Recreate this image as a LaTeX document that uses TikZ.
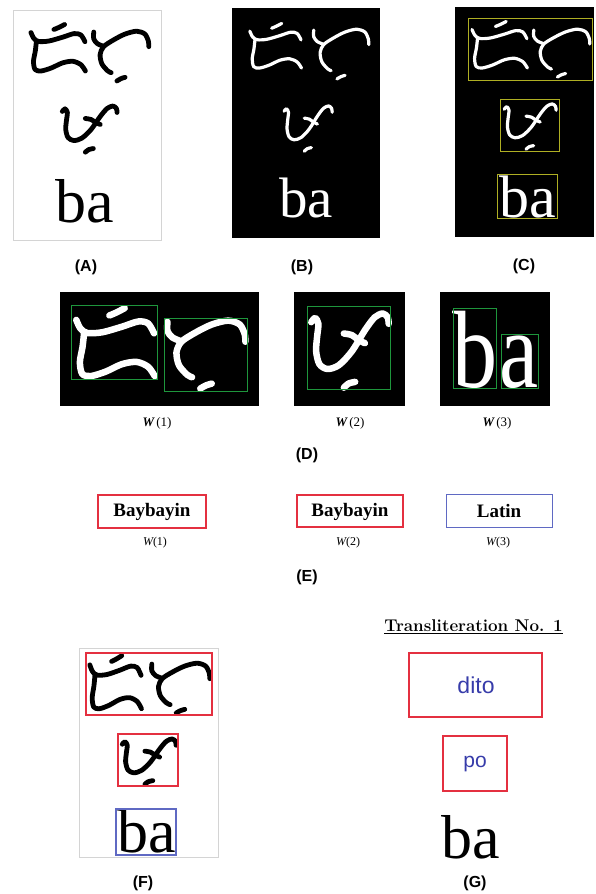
\documentclass[tikz,border=0pt]{standalone}
\usepackage{fontspec}
\newfontfamily\lsans{Liberation Sans}
\newfontfamily\tnr{Liberation Serif}
\definecolor{redbox}{RGB}{228,48,64}
\definecolor{bluebox}{RGB}{95,105,195}
\definecolor{bluetxt}{RGB}{55,60,170}
\definecolor{greenbox}{RGB}{30,150,60}
\definecolor{yelbox}{RGB}{175,175,35}
\definecolor{lgray}{RGB}{212,212,212}
% Baybayin glyphs in a unit frame (v downward)
\newcommand\GDi{%
  \draw plot[smooth] coordinates {(0.44,0.13) (0.52,0.09) (0.62,0.03)};
  \draw plot[smooth] coordinates {(0.05,0.19) (0.10,0.31) (0.18,0.37) (0.355,0.36) (0.587,0.284) (0.78,0.212) (0.896,0.239) (0.965,0.374)};
  \draw plot[smooth] coordinates {(0.143,0.36) (0.124,0.56) (0.093,0.766) (0.12,0.93) (0.22,0.96) (0.394,0.9) (0.587,0.797) (0.76,0.766) (0.896,0.833) (0.973,0.96)};
}
\newcommand\GTo{%
  \draw plot[smooth] coordinates {(0.98,0.32) (0.972,0.215) (0.912,0.078) (0.771,0.023) (0.57,0.078) (0.37,0.192) (0.2,0.32) (0.14,0.47) (0.17,0.65) (0.27,0.785) (0.33,0.82)};
  \draw plot[smooth] coordinates {(0.03,0.04) (0.03,0.17) (0.09,0.26) (0.19,0.31)};
  \draw plot[smooth] coordinates {(0.43,0.98) (0.5,0.935) (0.57,0.91)};
}
\newcommand\GPo{%
  \draw plot[smooth] coordinates {(0.04,0.185) (0.087,0.134) (0.127,0.205) (0.111,0.362) (0.099,0.539) (0.139,0.697) (0.238,0.756) (0.377,0.709) (0.536,0.539) (0.694,0.283) (0.813,0.126) (0.913,0.079) (0.972,0.126) (0.984,0.205)};
  \draw plot[smooth] coordinates {(0.437,0.323) (0.536,0.343) (0.615,0.402) (0.694,0.441)};
  \draw plot[smooth] coordinates {(0.437,0.984) (0.496,0.933) (0.575,0.913)};
}
% #1 glyph, #2 #3 top-left, #4 width, #5 height, #6 line width
\newcommand\Glyph[6]{\begin{scope}[shift={(#2,#3)},x=#4pt,y=-#5pt,line width=#6pt,line cap=round,line join=round]#1\end{scope}}
\begin{document}
\begin{tikzpicture}[x=1pt,y=-1pt,
  lbl/.style={inner sep=0,font=\lsans\bfseries\fontsize{16}{16}\selectfont},
  bigba/.style={inner sep=0,anchor=base,font=\tnr\fontsize{#1}{#1}\selectfont},
  wlbl/.style={inner sep=0,font=\tnr\fontsize{13}{13}\selectfont},
  elbl/.style={inner sep=0,font=\tnr\fontsize{12}{12}\selectfont},
  scriptbox/.style={inner sep=0,font=\tnr\bfseries\fontsize{19}{19}\selectfont},
  thinbox/.style={line width=0.8pt},
  colbox/.style={line width=1.3pt}]
\useasboundingbox (0,0) rectangle (596,894);
\fill[white] (0,0) rectangle (596,894);

% ---------- (A)
\draw[lgray,line width=1pt] (13,10) rectangle (161,240);
\begin{scope}[color=black]
\Glyph{\GDi}{28}{23}{59}{50}{4.8}
\Glyph{\GTo}{92}{30}{58}{52}{4.8}
\Glyph{\GPo}{60}{102}{58}{51}{4.8}
\end{scope}
\node[bigba=62] (baA) at (85,222) {ba};
\node[lbl] (labA) at (86,267) {(A)};

% ---------- (B)
\fill[black] (232,8) rectangle (380,238);
\begin{scope}[color=white]
\Glyph{\GDi}{247}{22}{56}{48}{3.2}
\Glyph{\GTo}{312}{28}{58}{52}{3.2}
\Glyph{\GPo}{282}{102}{51}{50}{3.2}
\end{scope}
\node[bigba=57,white] (baB) at (306,217) {ba};
\node[lbl] (labB) at (302,267) {(B)};

% ---------- (C)
\fill[black] (455,7) rectangle (594,237);
\begin{scope}[color=white]
\Glyph{\GDi}{469}{20}{60}{50}{3.2}
\Glyph{\GTo}{532}{28}{59}{50}{3.2}
\Glyph{\GPo}{502}{100}{55}{50}{3.2}
\end{scope}
\node[bigba=60,white] (baC) at (528,217) {ba};
\draw[yelbox,thinbox] (468,18) rectangle (592,80);
\draw[yelbox,thinbox] (500,99) rectangle (559,151);
\draw[yelbox,thinbox] (497,174) rectangle (557,218);
\node[lbl] (labC) at (524,266) {(C)};

% ---------- (D)
\fill[black] (60,292) rectangle (259,406);
\fill[black] (294,292) rectangle (405,406);
\fill[black] (440,292) rectangle (550,406);
\begin{scope}[color=white]
\Glyph{\GDi}{72}{306}{85}{73}{6.5}
\Glyph{\GTo}{165}{319}{82}{71}{6.5}
\Glyph{\GPo}{308}{307}{82}{82}{6.5}
\end{scope}
\node[inner sep=0,anchor=base,white] (bD) at (475,387) {\scalebox{0.82}[1]{\tnr\fontsize{110}{110}\selectfont b}};
\node[inner sep=0,anchor=base,white] (aD) at (519.5,387) {\scalebox{0.8}[1]{\tnr\fontsize{110}{110}\selectfont a}};
\draw[greenbox,thinbox] (71,305) rectangle (157,379);
\draw[greenbox,thinbox] (164,318) rectangle (247,391);
\draw[greenbox,thinbox] (307,306) rectangle (390,389);
\draw[greenbox,thinbox] (453,308) rectangle (496,388);
\draw[greenbox,thinbox] (501,334) rectangle (538,388);
\node[wlbl] (wD1) at (157,423) {{\bfseries\itshape W}\,(1)};
\node[wlbl] (wD2) at (350,423) {{\bfseries\itshape W}\,(2)};
\node[wlbl] (wD3) at (497,423) {{\bfseries\itshape W}\,(3)};
\node[lbl] (labD) at (307,455) {(D)};

% ---------- (E)
\draw[redbox,colbox] (98,495) rectangle (206,528);
\node[scriptbox] (e1) at (152,512) {Baybayin};
\draw[redbox,colbox] (297,495) rectangle (403,527);
\node[scriptbox] (e2) at (350,511.5) {Baybayin};
\draw[bluebox,line width=1pt] (446,494) rectangle (552,527);
\node[scriptbox] (e3) at (499,511) {Latin};
\node[elbl] (wE1) at (155,543) {{\itshape W}(1)};
\node[elbl] (wE2) at (348,543) {{\itshape W}(2)};
\node[elbl] (wE3) at (498,543) {{\itshape W}(3)};
\node[lbl] (labE) at (307,577) {(E)};

% ---------- (F)
\draw[lgray,line width=1pt] (79,648) rectangle (218,857);
\begin{scope}[color=black]
\Glyph{\GDi}{87}{654}{56}{57}{4.8}
\Glyph{\GTo}{150}{662}{61}{52}{4.8}
\Glyph{\GPo}{120}{735}{57}{50}{4.8}
\end{scope}
\node[bigba=62] (baF) at (147,852) {ba};
\draw[redbox,colbox] (86,653) rectangle (212,715);
\draw[redbox,colbox] (118,734) rectangle (178,786);
\draw[bluebox,colbox] (116,809) rectangle (176,855);
\node[lbl] (labF) at (143,883) {(F)};

% ---------- (G)
\node[inner sep=0,font=\bfseries\fontsize{17}{17}\selectfont] (title) at (473.5,627) {\underline{Transliteration No. 1}};
\draw[redbox,colbox] (409,653) rectangle (542,717);
\node[inner sep=0,bluetxt,font=\lsans\fontsize{23}{23}\selectfont] (dito) at (476,685) {dito};
\draw[redbox,colbox] (443,736) rectangle (507,791);
\node[inner sep=0,bluetxt,font=\lsans\fontsize{21}{21}\selectfont] (po) at (475,764) {po};
\node[bigba=62] (baG) at (471,858) {ba};
\node[lbl] (labG) at (475,883) {(G)};
\end{tikzpicture}
\end{document}
